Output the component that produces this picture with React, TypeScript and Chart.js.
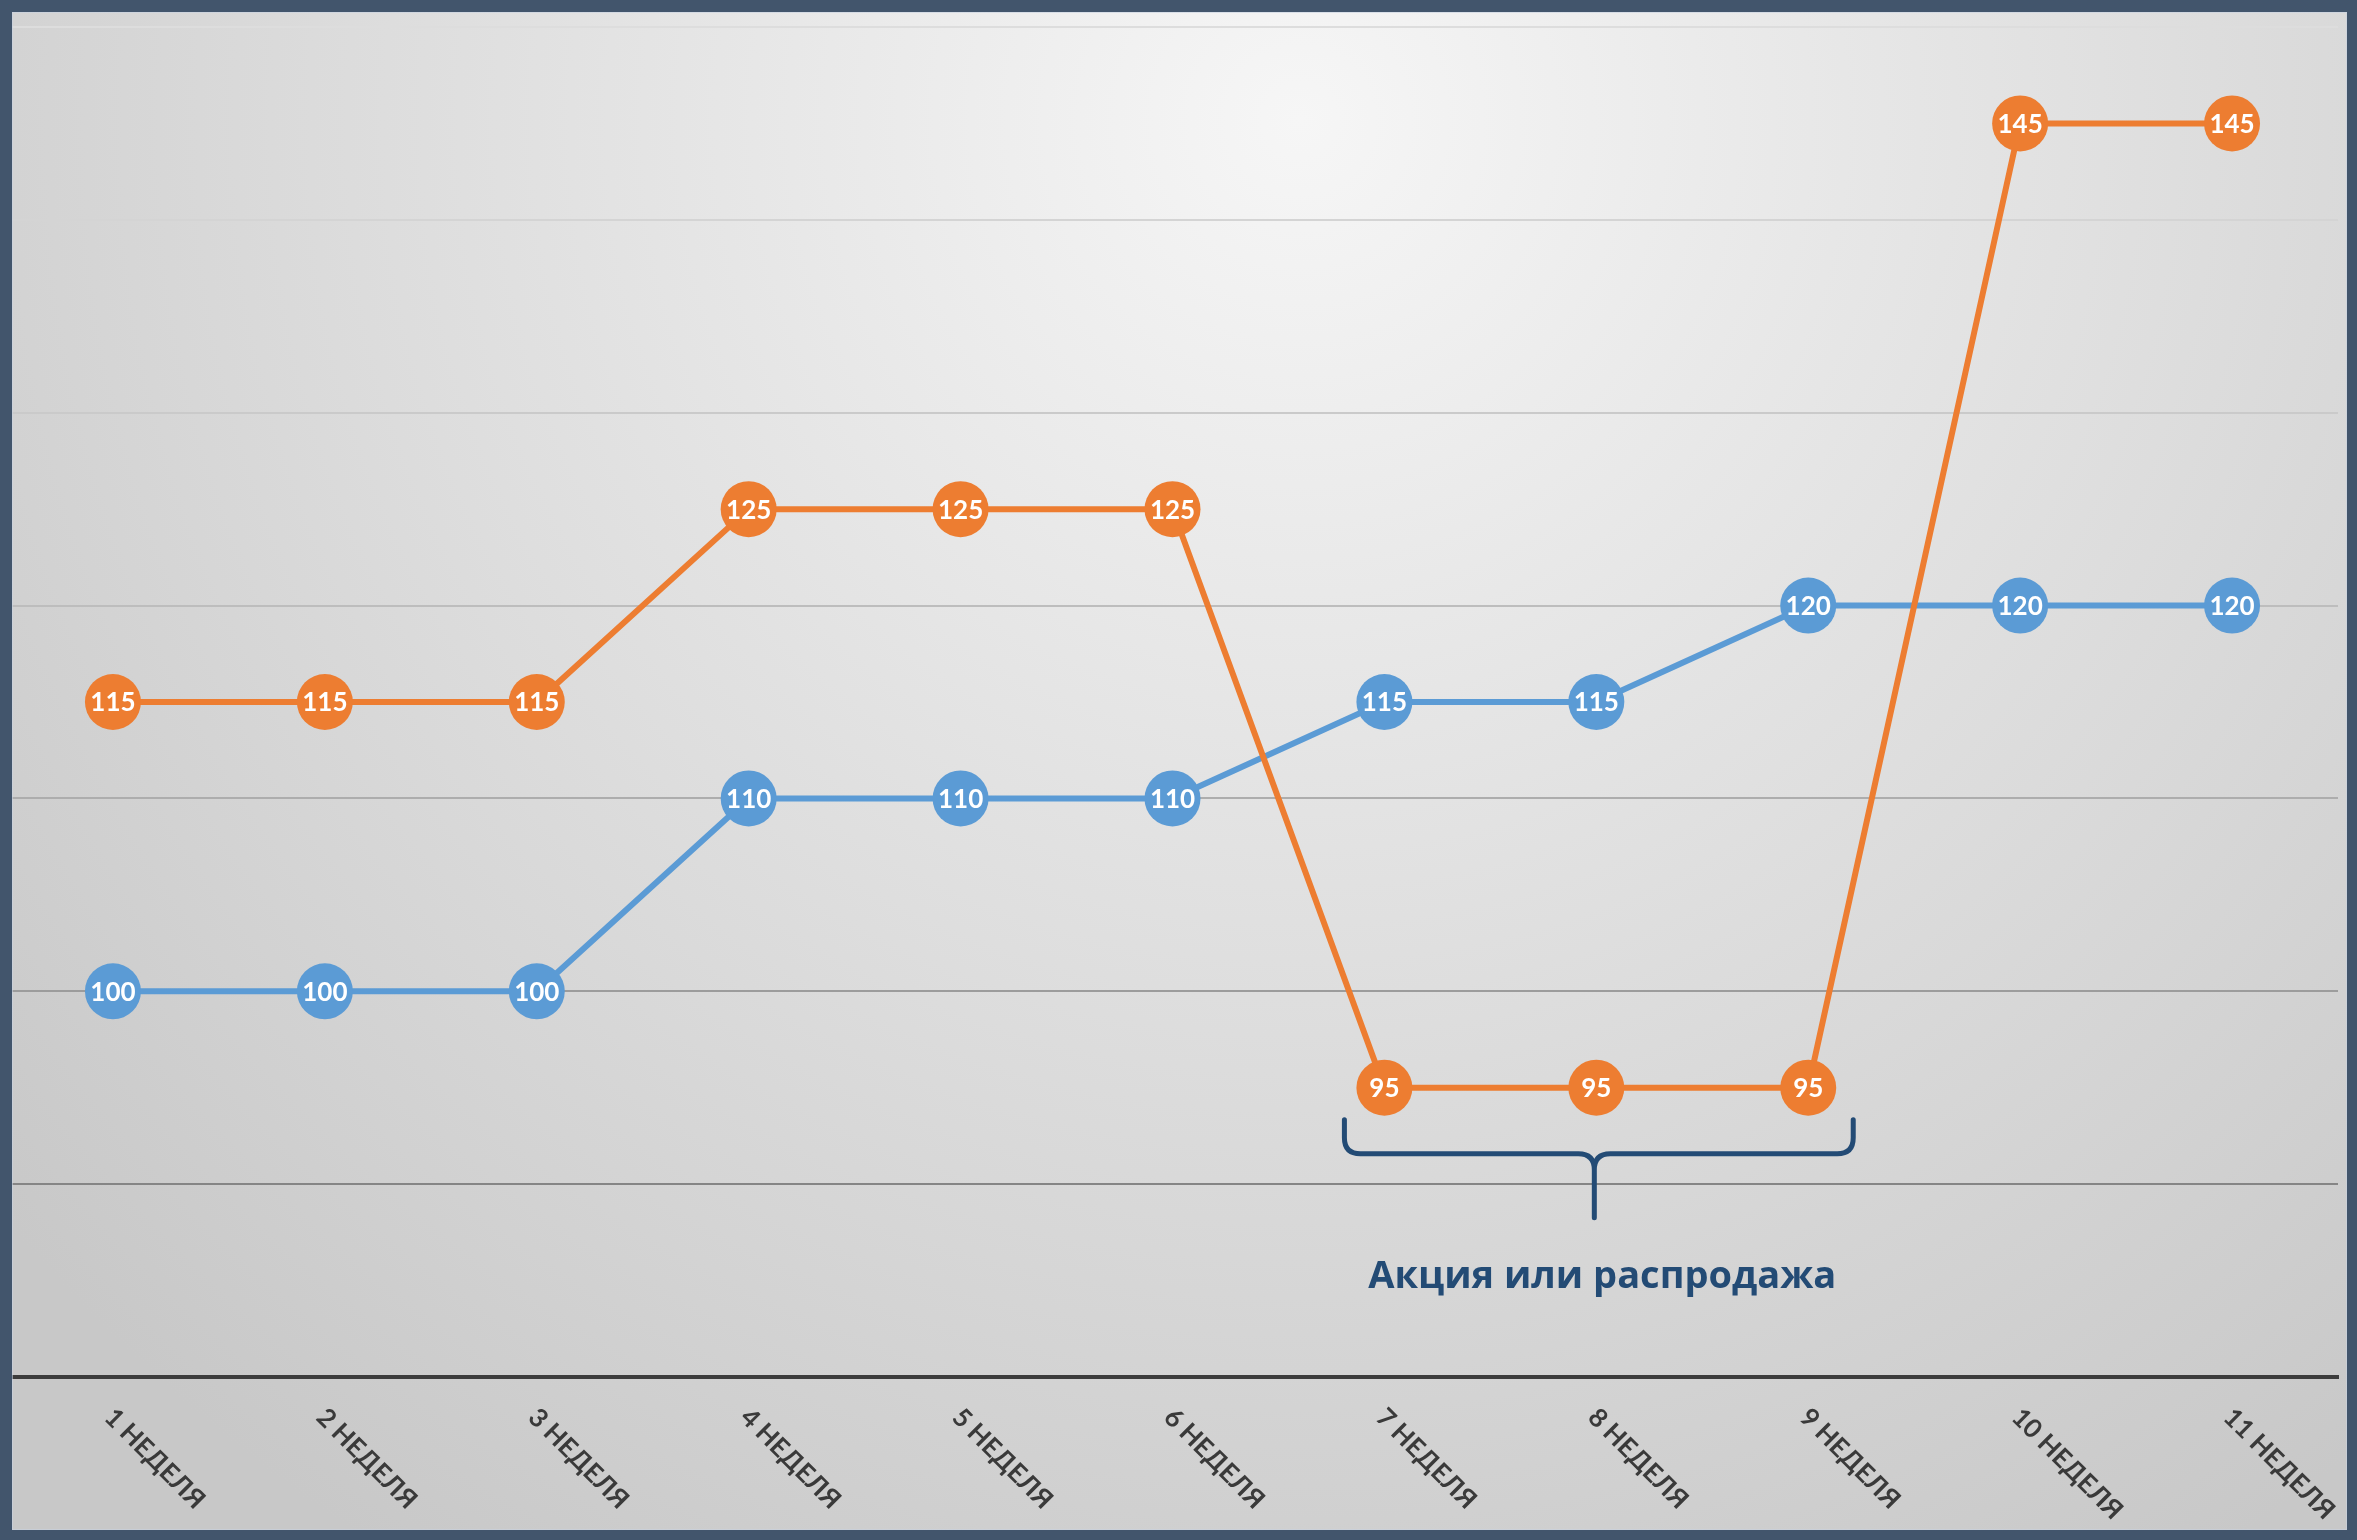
import React, { useEffect, useRef } from "react";
import { Chart, registerables } from "chart.js";

Chart.register(...registerables);

// ---- data ----
const weekLabels = [
  "1 НЕДЕЛЯ", "2 НЕДЕЛЯ", "3 НЕДЕЛЯ", "4 НЕДЕЛЯ", "5 НЕДЕЛЯ", "6 НЕДЕЛЯ",
  "7 НЕДЕЛЯ", "8 НЕДЕЛЯ", "9 НЕДЕЛЯ", "10 НЕДЕЛЯ", "11 НЕДЕЛЯ",
];
const orangeValues = [115, 115, 115, 125, 125, 125, 95, 95, 95, 145, 145];
const blueValues = [100, 100, 100, 110, 110, 110, 115, 115, 120, 120, 120];
const yMin = 80;
const yMax = 150;
const yStep = 10;
const promoText = "Акция или распродажа";
const promoFirstIndex = 6;
const promoLastIndex = 8;

// ---- styles ----
const W = 2357;
const H = 1540;
const ORANGE = "#ED7D31";
const BLUE = "#5B9BD5";
const FRAME = "#42556C";
const NAVY = "#234B75";
const gridColors: Record<number, string> = {
  150: "#dddddd",
  140: "#d4d4d4",
  130: "#cacaca",
  120: "#bdbdbd",
  110: "#adadad",
  100: "#9c9c9c",
  90: "#858585",
  80: "rgba(0,0,0,0)",
};

const backgroundPlugin = {
  id: "bg",
  beforeDraw(chart: any) {
    const ctx = chart.ctx;
    ctx.save();
    const g = ctx.createRadialGradient(1300, 120, 0, 1300, 120, 1700);
    g.addColorStop(0, "#f6f6f6");
    g.addColorStop(0.45, "#e1e1e1");
    g.addColorStop(1, "#c8c8c8");
    ctx.fillStyle = g;
    ctx.fillRect(0, 0, W, H);
    ctx.restore();
  },
};

const valueLabelPlugin = {
  id: "valueLabels",
  afterDatasetsDraw(chart: any) {
    const ctx = chart.ctx;
    ctx.save();
    ctx.fillStyle = "#ffffff";
    ctx.font = "bold 26px Lato, 'Open Sans', sans-serif";
    ctx.textAlign = "center";
    ctx.textBaseline = "middle";
    chart.data.datasets.forEach((ds: any, di: number) => {
      const meta = chart.getDatasetMeta(di);
      meta.data.forEach((pt: any, i: number) => {
        ctx.fillText(String(ds.data[i]), pt.x, pt.y + 1);
      });
    });
    ctx.restore();
  },
};

const bracePlugin = {
  id: "brace",
  afterDatasetsDraw(chart: any) {
    const ctx = chart.ctx;
    const xs = chart.scales.x;
    const ys = chart.scales.y;
    const minVal = Math.min(...orangeValues.slice(promoFirstIndex, promoLastIndex + 1));
    const base = ys.getPixelForValue(minVal);
    const x0 = xs.getPixelForValue(promoFirstIndex) - 40;
    const x1 = xs.getPixelForValue(promoLastIndex) + 45;
    const xm = xs.getPixelForValue((promoFirstIndex + promoLastIndex) / 2) - 2;
    const yTop = base + 32;
    const yH = base + 66;
    const yStem = base + 130;
    const r = 16;
    ctx.save();
    ctx.strokeStyle = NAVY;
    ctx.lineWidth = 5;
    ctx.lineCap = "round";
    ctx.lineJoin = "round";
    ctx.beginPath();
    ctx.moveTo(x0, yTop);
    ctx.lineTo(x0, yH - r);
    ctx.quadraticCurveTo(x0, yH, x0 + r, yH);
    ctx.lineTo(xm - r, yH);
    ctx.quadraticCurveTo(xm, yH, xm, yH + r);
    ctx.lineTo(xm, yStem);
    ctx.moveTo(xm, yH + r);
    ctx.quadraticCurveTo(xm, yH, xm + r, yH);
    ctx.lineTo(x1 - r, yH);
    ctx.quadraticCurveTo(x1, yH, x1, yH - r);
    ctx.lineTo(x1, yTop);
    ctx.stroke();
    ctx.fillStyle = NAVY;
    ctx.font = "bold 38px 'Open Sans', sans-serif";
    ctx.textAlign = "center";
    ctx.textBaseline = "middle";
    ctx.fillText(promoText, xm + 8, base + 189);
    ctx.restore();
  },
};

const tickLabelPlugin = {
  id: "rotatedTicks",
  afterDraw(chart: any) {
    const ctx = chart.ctx;
    const xs = chart.scales.x;
    const yAxis = chart.chartArea.bottom;
    ctx.save();
    ctx.fillStyle = "#3a3a3a";
    ctx.font = "bold 26px Lato, 'Open Sans', sans-serif";
    ctx.textAlign = "left";
    ctx.textBaseline = "middle";
    weekLabels.forEach((lbl, i) => {
      const x = xs.getPixelForTick(i);
      ctx.save();
      ctx.translate(x - 4, yAxis + 36);
      ctx.rotate(Math.PI / 4);
      ctx.fillText(lbl, 0, 0);
      ctx.restore();
    });
    ctx.restore();
  },
};

const framePlugin = {
  id: "frame",
  afterDraw(chart: any) {
    const ctx = chart.ctx;
    ctx.save();
    ctx.fillStyle = FRAME;
    ctx.fillRect(0, 0, W, 12);
    ctx.fillRect(0, 0, 12, H);
    ctx.fillRect(W - 10, 0, 10, H);
    ctx.fillRect(0, H - 10, W, 10);
    ctx.strokeStyle = "rgba(200,210,225,0.6)";
    ctx.lineWidth = 1;
    ctx.strokeRect(12.5, 12.5, W - 23, H - 23);
    ctx.restore();
  },
};

export default function App() {
  const ref = useRef<HTMLCanvasElement | null>(null);
  useEffect(() => {
    if (!ref.current) return;
    const chart = new Chart(ref.current, {
      type: "line",
      data: {
        labels: weekLabels,
        datasets: [
          {
            label: "Цена",
            data: orangeValues,
            borderColor: ORANGE,
            backgroundColor: ORANGE,
            pointBackgroundColor: ORANGE,
            pointBorderWidth: 0,
            pointRadius: 28,
            borderWidth: 6,
            tension: 0,
            clip: false,
          },
          {
            label: "Себестоимость",
            data: blueValues,
            borderColor: BLUE,
            backgroundColor: BLUE,
            pointBackgroundColor: BLUE,
            pointBorderWidth: 0,
            pointRadius: 28,
            borderWidth: 6,
            tension: 0,
            clip: false,
          },
        ],
      },
      options: {
        responsive: false,
        animation: false,
        devicePixelRatio: 1,
        layout: { autoPadding: false, padding: { left: 7, right: 19, top: 27, bottom: 163 } },
        plugins: {
          legend: { display: false },
          tooltip: { enabled: false },
          title: { display: false },
        },
        scales: {
          x: {
            type: "category",
            offset: true,
            ticks: { display: false },
            grid: { display: false, drawTicks: false },
            border: { display: true, color: "#3c3c3c", width: 4 },
          },
          y: {
            min: yMin,
            max: yMax,
            ticks: { display: false, stepSize: yStep },
            grid: {
              drawTicks: false,
              lineWidth: 2,
              color: (c: any) => gridColors[c.tick?.value] ?? "#bbbbbb",
            },
            border: { display: false },
          },
        },
      },
      plugins: [backgroundPlugin, valueLabelPlugin, bracePlugin, tickLabelPlugin, framePlugin],
    });
    return () => chart.destroy();
  }, []);
  return (
    <div style={{ position: "absolute", left: 0, top: 0, width: W, height: H }}>
      <canvas ref={ref} width={W} height={H} style={{ width: W, height: H, display: "block" }} />
    </div>
  );
}
